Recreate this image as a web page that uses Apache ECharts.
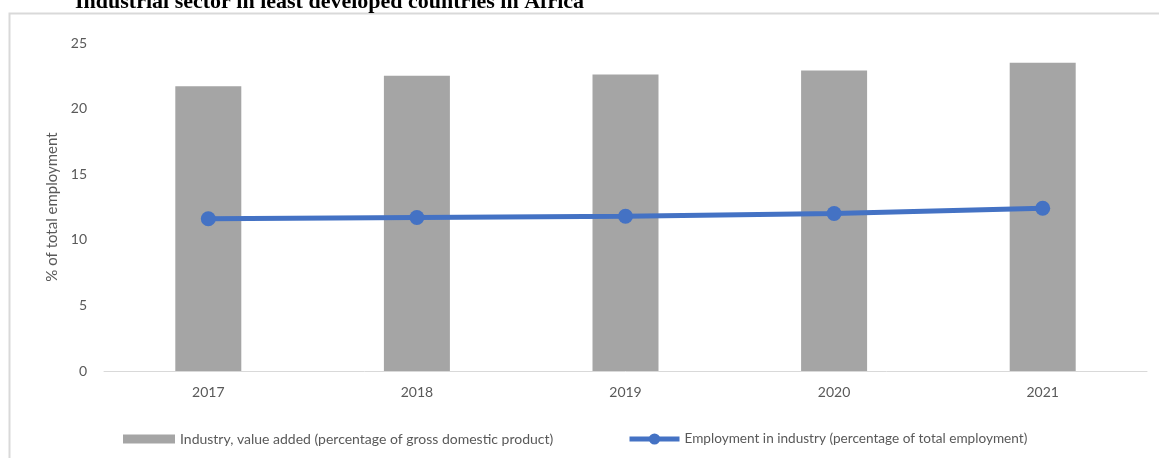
<!DOCTYPE html>
<html>
<head>
<meta charset="utf-8">
<script src="https://cdn.jsdelivr.net/npm/echarts@6/dist/echarts.min.js"></script>
<style>
  html, body { margin: 0; padding: 0; background: #fff; }
  #chart { width: 1159px; height: 458px; }
</style>
</head>
<body>
<div id="chart"></div>
<script>
// Industrial sector indicators, least developed countries in Africa
const years = ['2017', '2018', '2019', '2020', '2021'];
const valueAddedPctGdp = [21.7, 22.5, 22.6, 22.9, 23.5];
const employmentPctTotal = [11.6, 11.7, 11.8, 12.0, 12.4];
const yTicks = { min: 0, max: 25, interval: 5 };

const barName = 'Industry, value added (percentage of gross domestic product)';
const lineName = 'Employment in industry (percentage of total employment)';
const labelFont = 'Lato, "Open Sans", sans-serif';

const chart = echarts.init(document.getElementById('chart'), null, { renderer: 'canvas' });

chart.setOption({
  animation: false,
  backgroundColor: '#ffffff',
  graphic: [
    {
      type: 'rect',
      shape: { x: 9.5, y: 13.5, width: 1200, height: 500 },
      style: { fill: 'none', stroke: '#d9d9d9', lineWidth: 2 },
      z: 0
    },
    {
      type: 'text',
      x: 75,
      y: 13,
      style: {
        text: 'Industrial sector in least developed countries in Africa',
        font: 'bold 22px "Liberation Serif", "Times New Roman", serif',
        fill: '#000',
        textVerticalAlign: 'bottom'
      },
      z: 10
    }
  ],
  grid: { left: 104, right: 12, top: 43, bottom: 87, containLabel: false },
  legend: [
    {
      data: [{ name: barName, icon: 'rect' }],
      left: 118,
      top: 427,
      itemWidth: 52,
      itemHeight: 9,
      itemGap: 4,
      textStyle: { color: '#595959', fontSize: 14, fontFamily: labelFont }
    },
    {
      data: [{ name: lineName }],
      left: 622,
      top: 427,
      itemWidth: 50,
      itemHeight: 14,
      lineStyle: { width: 5 },
      textStyle: { color: '#595959', fontSize: 13.6, fontFamily: labelFont }
    }
  ],
  xAxis: {
    type: 'category',
    data: years,
    axisLine: { lineStyle: { color: '#d9d9d9', width: 1 } },
    axisTick: { show: false },
    axisLabel: { color: '#595959', fontSize: 14, fontFamily: labelFont, margin: 14 }
  },
  yAxis: {
    type: 'value',
    min: yTicks.min,
    max: yTicks.max,
    interval: yTicks.interval,
    name: '% of total employment',
    nameLocation: 'middle',
    nameGap: 42,
    nameTextStyle: { color: '#595959', fontSize: 15, fontFamily: labelFont },
    axisLine: { show: false },
    axisTick: { show: false },
    splitLine: { show: false },
    axisLabel: { color: '#595959', fontSize: 14, fontFamily: labelFont, margin: 17 }
  },
  series: [
    {
      name: barName,
      type: 'bar',
      data: valueAddedPctGdp,
      barWidth: 66,
      itemStyle: { color: '#a5a5a5' }
    },
    {
      name: lineName,
      type: 'line',
      data: employmentPctTotal,
      symbol: 'circle',
      symbolSize: 15,
      lineStyle: { color: '#4472c4', width: 5 },
      itemStyle: { color: '#4472c4' }
    }
  ]
});
</script>
</body>
</html>
